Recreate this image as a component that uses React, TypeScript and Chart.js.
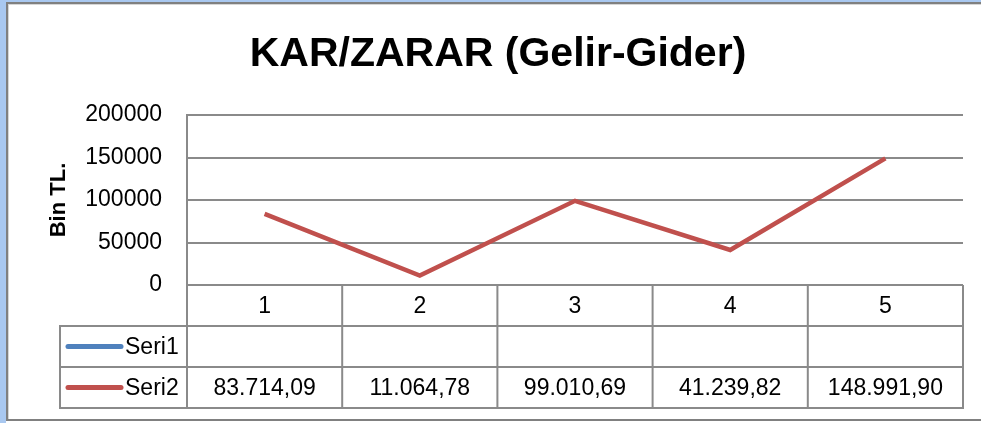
import { useEffect, useRef } from "react";
import { Chart, registerables } from "chart.js";

Chart.register(...registerables);

const categories = ["1", "2", "3", "4", "5"];
const seriesNames = ["Seri1", "Seri2"];
const seri1Values: (number | null)[] = [null, null, null, null, null];
const seri2Values: number[] = [83714.09, 11064.78, 99010.69, 41239.82, 148991.9];
const yTickValues = [0, 50000, 100000, 150000, 200000];
const chartTitle = "KAR/ZARAR (Gelir-Gider)";
const yAxisTitle = "Bin TL.";

const W = 981;
const H = 423;
const FONT = "'Liberation Sans', Arial, sans-serif";
const GRID = "#8a8a8a";

function formatTR(v: number | null): string {
  if (v === null || v === undefined) return "";
  const [i, d] = v.toFixed(2).split(".");
  return i.replace(/\B(?=(\d{3})+(?!\d))/g, ".") + "," + d;
}

const framePlugin = {
  id: "frame",
  beforeDraw(chart: any) {
    const ctx = chart.ctx;
    ctx.save();
    ctx.fillStyle = "#ffffff";
    ctx.fillRect(0, 0, W, H);
    ctx.fillStyle = "#a9c8f0";
    ctx.fillRect(0, 0, 6, H);
    ctx.fillRect(0, 0, W, 2);
    ctx.fillStyle = "#808080";
    ctx.fillRect(6, 2, W - 6, 2);
    ctx.fillRect(6, 2, 2, 419);
    ctx.fillRect(6, 419, W - 6, 2);
    ctx.fillStyle = "#d6d6d6";
    ctx.fillRect(8, 4, W - 8, 1);
    ctx.fillRect(8, 4, 1, 415);
    ctx.restore();
  },
};

const tablePlugin = {
  id: "dataTable",
  afterDraw(chart: any) {
    const ctx = chart.ctx;
    const x = chart.scales.x;
    const area = chart.chartArea;
    const n = categories.length;
    const step = n > 1 ? x.getPixelForValue(1) - x.getPixelForValue(0) : area.right - area.left;
    const top = area.bottom;
    const rowH = 41;
    const r1 = top + rowH;
    const r2 = r1 + rowH;
    const r3 = r2 + rowH;
    const legendLeft = 60;

    ctx.save();
    ctx.strokeStyle = GRID;
    ctx.lineWidth = 2;
    ctx.beginPath();
    [r1, r2, r3].forEach((yy) => {
      ctx.moveTo(legendLeft, yy);
      ctx.lineTo(area.right + 1, yy);
    });
    ctx.moveTo(legendLeft, r1 - 1);
    ctx.lineTo(legendLeft, r3 + 1);
    const first = x.getPixelForValue(0) - step / 2;
    for (let k = 0; k <= n; k++) {
      const bx = first + k * step;
      ctx.moveTo(bx, top);
      ctx.lineTo(bx, r3 + 1);
    }
    ctx.stroke();

    ctx.fillStyle = "#000000";
    ctx.font = `23px ${FONT}`;
    ctx.textAlign = "center";
    ctx.textBaseline = "middle";
    categories.forEach((c, i) => {
      ctx.fillText(c, x.getPixelForValue(i), top + rowH / 2 + 1);
    });
    const rows = [seri1Values, seri2Values];
    rows.forEach((vals, ri) => {
      const cy = r1 + ri * rowH + rowH / 2 + 1;
      vals.forEach((v, i) => {
        ctx.fillText(formatTR(v as any), x.getPixelForValue(i), cy);
      });
    });

    chart.data.datasets.forEach((ds: any, ri: number) => {
      const cy = r1 + ri * rowH + rowH / 2;
      ctx.strokeStyle = ds.borderColor;
      ctx.lineWidth = 5;
      ctx.lineCap = "round";
      ctx.beginPath();
      ctx.moveTo(68, cy);
      ctx.lineTo(121, cy);
      ctx.stroke();
      ctx.textAlign = "left";
      ctx.fillStyle = "#000000";
      ctx.fillText(ds.label, 125, cy + 1);
    });
    ctx.restore();
  },
};

export default function App() {
  const ref = useRef<HTMLCanvasElement | null>(null);

  useEffect(() => {
    if (!ref.current) return;
    const chart = new Chart(ref.current, {
      type: "line",
      data: {
        labels: categories,
        datasets: [
          {
            label: seriesNames[0],
            data: seri1Values,
            borderColor: "#4f81bd",
            backgroundColor: "#4f81bd",
            borderWidth: 4.5,
            pointRadius: 0,
          },
          {
            label: seriesNames[1],
            data: seri2Values,
            borderColor: "#c0504d",
            backgroundColor: "#c0504d",
            borderWidth: 4.5,
            pointRadius: 0,
            tension: 0,
          },
        ],
      },
      options: {
        responsive: false,
        animation: false,
        layout: { padding: { left: 15, top: 0, right: 0, bottom: 138 } },
        plugins: {
          legend: { display: false },
          tooltip: { enabled: false },
          title: {
            display: true,
            text: chartTitle,
            color: "#000000",
            font: { family: FONT, size: 41, weight: "bold" },
            padding: { top: 30, bottom: 35.8 },
          },
        },
        scales: {
          x: {
            type: "category",
            display: false,
            offset: true,
          },
          y: {
            min: 0,
            max: 200000,
            afterBuildTicks: (s: any) => {
              s.ticks = yTickValues.map((v) => ({ value: v }));
            },
            afterFit: (s: any) => {
              s.width = 172;
            },
            ticks: {
              color: "#000000",
              font: { family: FONT, size: 23 },
              padding: 25,
              callback: (v: any) => String(v),
            },
            grid: { color: GRID, lineWidth: 2, drawTicks: false },
            border: { display: true, color: GRID, width: 2 },
            title: {
              display: true,
              text: yAxisTitle,
              color: "#000000",
              font: { family: FONT, size: 22, weight: "bold" },
              padding: { top: 31, bottom: 0 },
            },
          },
          yRightSpacer: {
            type: "linear",
            position: "right",
            display: true,
            min: 0,
            max: 1,
            afterFit: (s: any) => {
              s.width = 18;
            },
            ticks: { display: false },
            grid: { display: false, drawOnChartArea: false },
            border: { display: false },
          },
        },
      },
      plugins: [framePlugin, tablePlugin],
    });
    return () => chart.destroy();
  }, []);

  return (
    <div style={{ position: "fixed", left: 0, top: 0, width: W, height: H }}>
      <canvas ref={ref} width={W} height={H} style={{ display: "block", width: W, height: H }} />
    </div>
  );
}
